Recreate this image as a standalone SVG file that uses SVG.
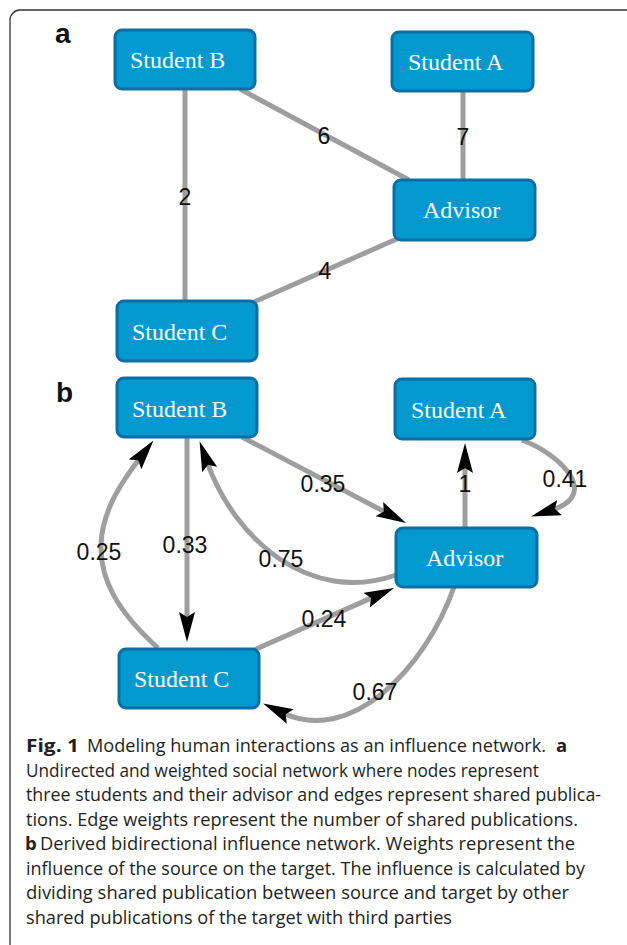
<svg xmlns="http://www.w3.org/2000/svg" width="627" height="945" viewBox="0 0 627 945">
<style>
.node rect{fill:#0399cf;stroke:#0c6ea6;stroke-width:3}
.node text{font-family:"Liberation Serif","Times New Roman",serif;font-size:24px;fill:#ffffff}
.edge{fill:none;stroke:#9e9e9e;stroke-width:5}
.lbl{font-family:"Liberation Sans",Arial,sans-serif;font-size:23px;fill:#111;text-anchor:middle}
.panel{font-family:"Liberation Sans",Arial,sans-serif;font-size:28px;font-weight:bold;fill:#111}
.cap{font-family:"Open Sans","Liberation Sans",sans-serif;font-size:18.5px;fill:#231f20}
.capb{font-family:"Open Sans","Liberation Sans",sans-serif;font-size:18.5px;font-weight:bold;fill:#231f20}
</style>
<defs>
<marker id="arr" viewBox="0 0 30 16" refX="8" refY="8" markerWidth="30" markerHeight="16" markerUnits="userSpaceOnUse" orient="auto">
<path d="M0,0 L30,8 L0,16 L5,8 Z" fill="#000"/>
</marker>
</defs>
<rect width="627" height="945" fill="#fff"/>
<path d="M10,945 V20 A10,10 0 0 1 20,10 H627" fill="none" stroke="#333" stroke-width="1.3"/>
<text class="panel" x="55" y="43">a</text>
<text class="panel" x="56" y="402">b</text>
<g id="connectors">
<path class="edge" d="M185,89 L185,301"/>
<path class="edge" d="M240,89 L409,180"/>
<path class="edge" d="M463,91 L463,180"/>
<path class="edge" d="M254,302 L399,238"/>
<path class="edge" d="M187,437 L187,620" marker-end="url(#arr)"/>
<path class="edge" d="M242,437 L386.5,512.8" marker-end="url(#arr)"/>
<path class="edge" d="M465,528 L465,465" marker-end="url(#arr)"/>
<path class="edge" d="M522,440 C562,455 600,495 552,510" marker-end="url(#arr)"/>
<path class="edge" d="M396,575 C310,605 235,540 207,462" marker-end="url(#arr)"/>
<path class="edge" d="M158,648 C118,612 100,580 101,545 C102,510 123,480 140,458" marker-end="url(#arr)"/>
<path class="edge" d="M254,650 L373.9,596.9" marker-end="url(#arr)"/>
<path class="edge" d="M454,587 C425,670 350,745 283,713" marker-end="url(#arr)"/>
<text class="lbl" x="324" y="144">6</text>
<text class="lbl" x="463" y="145">7</text>
<text class="lbl" x="185" y="205">2</text>
<text class="lbl" x="325" y="279">4</text>
<text class="lbl" x="323" y="492">0.35</text>
<text class="lbl" x="465" y="492">1</text>
<text class="lbl" x="565" y="487">0.41</text>
<text class="lbl" x="185" y="553">0.33</text>
<text class="lbl" x="99" y="560">0.25</text>
<text class="lbl" x="281" y="567">0.75</text>
<text class="lbl" x="324" y="627">0.24</text>
<text class="lbl" x="375" y="700">0.67</text>
</g>
<g id="a-student-b" class="node"><rect x="115" y="30" width="140" height="59" rx="7"/><text x="130" y="68">Student B</text></g>
<g id="a-student-a" class="node"><rect x="392" y="32" width="141" height="59" rx="7"/><text x="408" y="70">Student A</text></g>
<g id="a-advisor" class="node"><rect x="394" y="180" width="141" height="60" rx="7"/><text x="423" y="218">Advisor</text></g>
<g id="a-student-c" class="node"><rect x="117" y="301" width="140" height="60" rx="7"/><text x="132" y="340">Student C</text></g>
<g id="b-student-b" class="node"><rect x="117" y="378" width="140" height="59" rx="7"/><text x="132" y="417">Student B</text></g>
<g id="b-student-a" class="node"><rect x="395" y="379" width="140" height="60" rx="7"/><text x="411" y="418">Student A</text></g>
<g id="b-advisor" class="node"><rect x="396" y="528" width="141" height="59" rx="7"/><text x="426" y="566">Advisor</text></g>
<g id="b-student-c" class="node"><rect x="119" y="649" width="140" height="59" rx="7"/><text x="134" y="687">Student C</text></g>
<g id="caption">
<text class="capb" x="26" y="752" textLength="53" lengthAdjust="spacingAndGlyphs">Fig. 1</text>
<text class="cap" x="87" y="752" textLength="459" lengthAdjust="spacingAndGlyphs">Modeling human interactions as an influence network.</text>
<text class="capb" x="556" y="752">a</text>
<text class="cap" x="26" y="776.5" textLength="513" lengthAdjust="spacingAndGlyphs">Undirected and weighted social network where nodes represent</text>
<text class="cap" x="26" y="801" textLength="575" lengthAdjust="spacingAndGlyphs">three students and their advisor and edges represent shared publica-</text>
<text class="cap" x="26" y="825.5" textLength="552" lengthAdjust="spacingAndGlyphs">tions. Edge weights represent the number of shared publications.</text>
<text class="capb" x="25" y="850">b</text>
<text class="cap" x="40" y="850" textLength="535" lengthAdjust="spacingAndGlyphs">Derived bidirectional influence network. Weights represent the</text>
<text class="cap" x="26" y="874.5" textLength="559" lengthAdjust="spacingAndGlyphs">influence of the source on the target. The influence is calculated by</text>
<text class="cap" x="26" y="899" textLength="543" lengthAdjust="spacingAndGlyphs">dividing shared publication between source and target by other</text>
<text class="cap" x="26" y="923.5" textLength="426" lengthAdjust="spacingAndGlyphs">shared publications of the target with third parties</text>
</g>
</svg>
